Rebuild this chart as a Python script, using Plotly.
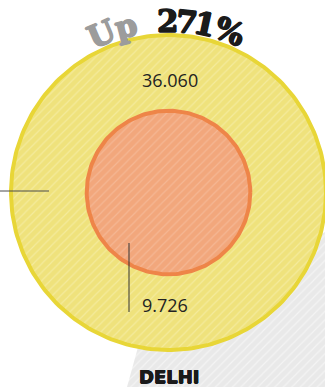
import numpy as np
import plotly.graph_objects as go

# Values shown as concentric area-scaled circles
city = "DELHI"
values = [36.060, 9.726]          # [current, earlier]
value_labels = ["36.060", "9.726"]
headline_prefix = "Up"
headline_value = "271%"

W, H = 325, 387
cx, cy = 168.5, 192.5
scale = 26.23                      # pixels per sqrt(unit)

def circle_xy(r, n=240):
    t = np.linspace(0, 2 * np.pi, n)
    return cx + r * np.cos(t), cy + r * np.sin(t)

def heavy(col, w=1):
    # faux-bold outline so the glyphs read as a black weight
    offs = [(w, 0), (-w, 0), (0, w), (0, -w)]
    return ", ".join(f"{dx}px {dy}px 0 {col}" for dx, dy in offs)

fig = go.Figure()

# light grey hatched backdrop band at the lower right
fig.add_trace(go.Scatter(
    x=[127, 140, 325, 325, 127], y=[387, 340, 232, 387, 387],
    mode="lines", fill="toself", line=dict(width=0),
    fillcolor="#e9e9e9",
    fillpattern=dict(shape="/", bgcolor="#e9e9e9", fgcolor="#f4f4f4",
                     size=6, solidity=0.2, fillmode="replace"),
    hoverinfo="skip", showlegend=False))

styles = [
    dict(fill="#efe27c", stripe="#f4eb9c", edge="#e8d637"),
    dict(fill="#f2a77c", stripe="#f5b794", edge="#ee8548"),
]
for v, st in zip(values, styles):
    r = scale * np.sqrt(v)
    x, y = circle_xy(r)
    fig.add_trace(go.Scatter(
        x=x, y=y, mode="lines", fill="toself",
        line=dict(color=st["edge"], width=4),
        fillcolor=st["fill"],
        fillpattern=dict(shape="/", bgcolor=st["fill"], fgcolor=st["stripe"],
                         size=6, solidity=0.2, fillmode="replace"),
        hoverinfo="skip", showlegend=False))

# leader lines
fig.add_trace(go.Scatter(x=[0, 49], y=[191, 191], mode="lines",
                         line=dict(color="#4a4a4a", width=1),
                         hoverinfo="skip", showlegend=False))
fig.add_trace(go.Scatter(x=[129, 129], y=[243, 312], mode="lines",
                         line=dict(color="#333333", width=1),
                         hoverinfo="skip", showlegend=False))

annotations = [
    dict(x=170, y=80, text=value_labels[0], showarrow=False,
         font=dict(family="Open Sans", size=18, color="#222222")),
    dict(x=140, y=305, text=value_labels[1], showarrow=False, xanchor="left",
         font=dict(family="Open Sans", size=18, color="#222222")),
    dict(x=169, y=376, text=f"<b>{city}</b>", showarrow=False,
         font=dict(family="DejaVu Sans", size=18, color="#1a1a1a",
                   shadow=heavy("#1a1a1a", 0.5))),
]

# headline set along an arc above the outer circle
R_text = 172
chars = [(c, "#9c9c9c", xc) for c, xc in zip(headline_prefix, [101, 126])] + \
        [(c, "#1b1b1b", xc) for c, xc in zip(headline_value, [168, 187, 205, 229])]
for ch, col, xc in chars:
    ang = np.degrees(np.arcsin((xc - cx) / R_text))
    a = np.radians(ang)
    px = cx + R_text * np.sin(a)
    py = cy - R_text * np.cos(a)
    annotations.append(dict(
        x=px, y=py, text=f"<b>{ch}</b>", showarrow=False, textangle=ang,
        xanchor="center", yanchor="middle",
        font=dict(family="DejaVu Serif", size=31, color=col,
                  shadow=heavy(col, 0.8))))

fig.update_layout(
    width=W, height=H, margin=dict(l=0, r=0, t=0, b=0),
    paper_bgcolor="white", plot_bgcolor="white",
    xaxis=dict(range=[0, W], visible=False, fixedrange=True),
    yaxis=dict(range=[H, 0], visible=False, fixedrange=True),
    annotations=annotations,
)

fig.write_html("out.html")
